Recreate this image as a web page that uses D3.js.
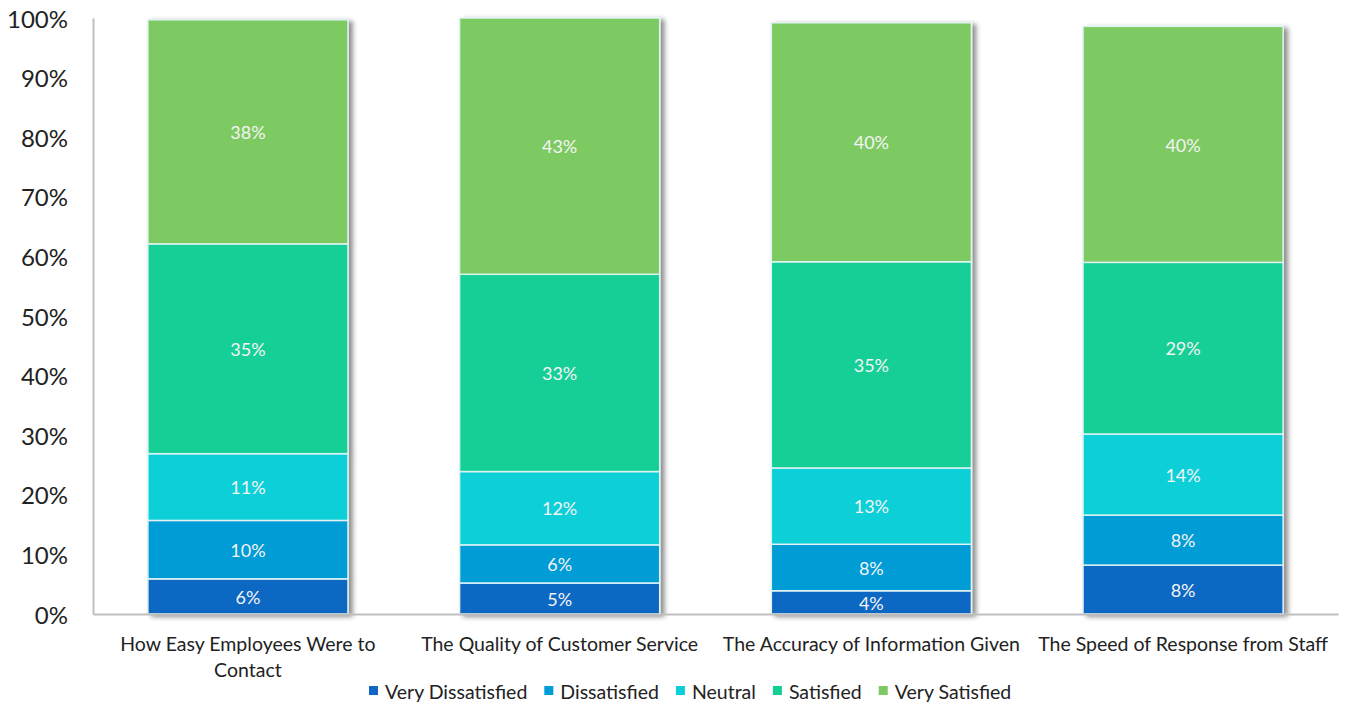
<!DOCTYPE html>
<html>
<head>
<meta charset="utf-8">
<script src="https://cdn.jsdelivr.net/npm/d3@7"></script>
<style>
	body { margin: 0; background: #fff; }
	svg { font-family: Lato, "Open Sans", sans-serif; }
	.y-axis text { font-size: 24px; fill: #222; }
	.x-label { font-size: 19.5px; fill: #222; }
	.legend text { font-size: 19.5px; fill: #222; }
	.seg-label { font-size: 18px; fill: #f4f4f4; }
</style>
</head>
<body>
<div id="chart"></div>
<script>
// Data
var categories = ["How Easy Employees Were to Contact", "The Quality of Customer Service",
	"The Accuracy of Information Given", "The Speed of Response from Staff"];

var seriesNames = ["Very Dissatisfied", "Dissatisfied", "Neutral", "Satisfied", "Very Satisfied"];

var veryDissatisfied = [5.9, 5.2, 3.9, 8.2];
var dissatisfied     = [9.8, 6.4, 7.8, 8.4];
var neutral          = [11.2, 12.3, 12.8, 13.6];
var satisfied        = [35.2, 33.1, 34.6, 28.8];
var verySatisfied    = [37.6, 43.0, 40.1, 39.6];

var yTicks = [0, 10, 20, 30, 40, 50, 60, 70, 80, 90, 100];

var colors = ["#1167c3", "#009cd5", "#0bcfd8", "#13cf96", "#7dca64"];

var width = 1348, height = 705;
var plot = {left: 93, right: 1338, top: 18, bottom: 614};

var svg = d3.select("#chart").append("svg")
	.attr("width", width)
	.attr("height", height);

// Shadow behind the bars
var filter = svg.append("defs").append("filter")
	.attr("id", "shadow")
	.attr("x", "-10%").attr("y", "-10%")
	.attr("width", "130%").attr("height", "130%");
filter.append("feDropShadow")
	.attr("dx", 4).attr("dy", 2)
	.attr("stdDeviation", 2.5)
	.attr("flood-color", "#000")
	.attr("flood-opacity", 0.45);

// build rows for d3.stack
var allSeries = [veryDissatisfied, dissatisfied, neutral, satisfied, verySatisfied];
var rows = categories.map(function(c, i) {
	var row = {category: c};
	seriesNames.forEach(function(s, j) { row[s] = allSeries[j][i]; });
	return row;
});

var stacked = d3.stack().keys(seriesNames)(rows);

var x = d3.scaleBand()
	.domain(categories)
	.range([plot.left, plot.right])
	.paddingInner(0.358)
	.paddingOuter(0.176);

var y = d3.scaleLinear()
	.domain([0, 100])
	.range([plot.bottom, plot.top]);

// Bars
var barGroup = svg.append("g").attr("filter", "url(#shadow)");

var layers = barGroup.selectAll(".layer")
	.data(stacked)
	.enter().append("g")
	.attr("class", "layer")
	.style("fill", function(d, i) { return colors[i]; });

layers.selectAll("rect")
	.data(function(d) { return d; })
	.enter().append("rect")
	.attr("x", function(d) { return x(d.data.category); })
	.attr("y", function(d) { return y(d[1]); })
	.attr("width", x.bandwidth())
	.attr("height", function(d) { return y(d[0]) - y(d[1]); })
	.style("stroke", "#dff3f3")
	.style("stroke-width", 1.5);

// Segment labels
var labelGroup = svg.append("g");
stacked.forEach(function(layer) {
	labelGroup.selectAll(null)
		.data(layer)
		.enter().append("text")
		.attr("class", "seg-label")
		.attr("x", function(d) { return x(d.data.category) + x.bandwidth() / 2; })
		.attr("y", function(d) { return (y(d[0]) + y(d[1])) / 2; })
		.attr("dy", "0.4em")
		.style("text-anchor", "middle")
		.text(function(d) { return Math.round(d[1] - d[0]) + "%"; });
});

// Axes
var yAxis = d3.axisLeft(y)
	.tickValues(yTicks)
	.tickSize(0)
	.tickPadding(25)
	.tickFormat(function(d) { return d + "%"; });

var yG = svg.append("g")
	.attr("class", "y-axis")
	.attr("transform", "translate(" + plot.left + ",0)")
	.call(yAxis);
yG.select(".domain").style("stroke", "#bfbfbf").style("stroke-width", 2);
yG.selectAll("text").attr("dy", "0.38em").style("font-family", "Lato, sans-serif");

var xAxis = d3.axisBottom(x).tickSize(0).tickFormat("");
var xG = svg.append("g")
	.attr("class", "x-axis")
	.attr("transform", "translate(0," + plot.bottom + ")")
	.call(xAxis);
xG.select(".domain").style("stroke", "#bfbfbf").style("stroke-width", 2);

// Category labels; the first one wraps before "Contact" like the original
categories.forEach(function(c) {
	var cx = x(c) + x.bandwidth() / 2;
	var t = svg.append("text")
		.attr("class", "x-label")
		.attr("y", plot.bottom + 37)
		.style("text-anchor", "middle");
	var lines = c == categories[0] ? ["How Easy Employees Were to", "Contact"] : [c];
	lines.forEach(function(l, i) {
		t.append("tspan")
			.attr("x", cx)
			.attr("dy", i == 0 ? 0 : 26)
			.text(l);
	});
});

// Legend
var legend = svg.append("g").attr("class", "legend");
var lx = 369;
seriesNames.forEach(function(s, i) {
	var g = legend.append("g").attr("transform", "translate(" + lx + ",692)");
	g.append("rect")
		.attr("x", 0).attr("y", -6)
		.attr("width", 9).attr("height", 9)
		.style("fill", colors[i]);
	var t = g.append("text")
		.attr("x", 16)
		.attr("dy", "0.35em")
		.text(s);
	lx += 16 + t.node().getComputedTextLength() + 17;
});
</script>
</body>
</html>
